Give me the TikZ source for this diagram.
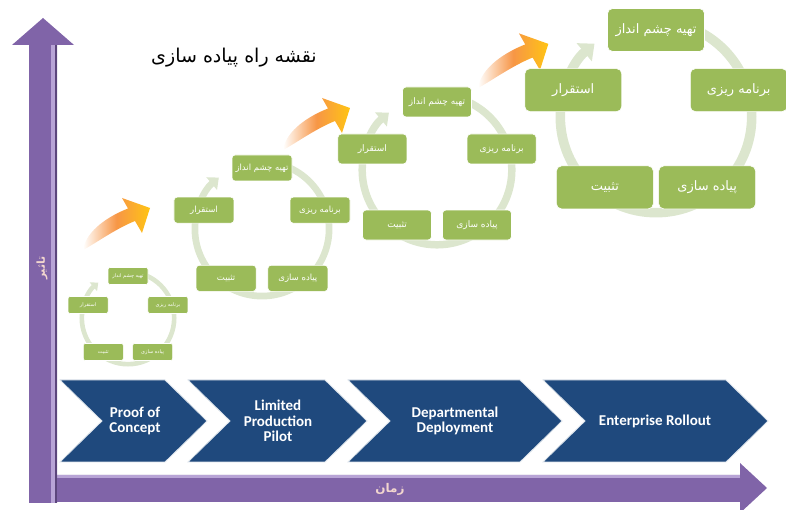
\documentclass[tikz,border=0pt]{standalone}
\usepackage{fontspec}
\setmainfont{Carlito}
\newfontfamily\farsi[Script=Arabic]{DejaVu Sans}
\TeXXeTstate=1
\usetikzlibrary{arrows.meta}

\definecolor{axispurple}{RGB}{128,100,168}
\definecolor{axislight}{RGB}{184,164,214}
\definecolor{axisdark}{RGB}{92,70,124}
\definecolor{phaseblue}{RGB}{31,73,125}
\definecolor{stepgreen}{RGB}{155,187,89}
\definecolor{ringgreen}{RGB}{220,230,206}
\definecolor{labelpink}{RGB}{242,214,206}
\definecolor{arroworange}{RGB}{247,150,70}
\definecolor{arrowyellow}{RGB}{255,196,20}

\tikzset{
  stepbox/.style={rectangle, fill=stepgreen, draw=white, line width=0.6, text=white, inner sep=0},
  phase/.style={fill=phaseblue, draw=white!85!phaseblue, line width=0.8},
  phasetext/.style={text=white, font=\bfseries\fontsize{15}{15.5}\selectfont, align=center},
}

\begin{document}
\begin{tikzpicture}[x=1pt, y=1pt]
    \clip (0,0) rectangle (786,510);
    
    % time and impact axes
    \fill[axispurple] (29,8) -- (740,8) -- (740,-3) -- (767,22) -- (740,47) -- (740,35) -- (29,35) -- cycle;
    \fill[axislight] (57,32) rectangle (740,34.5);
    \fill[axispurple] (29,7) -- (29,465) -- (12,465) -- (43,492) -- (74,465) -- (57,465) -- (57,7) -- cycle;
    \fill[axislight] (51,7) rectangle (54.5,465);
    \fill[axisdark] (54.5,7) rectangle (57,465);
    \node[rotate=90, text=labelpink, font=\farsi\bfseries\fontsize{11}{11}\selectfont] (impact) at (42,242) {\beginR تاثیر\endR};
    \node[text=labelpink, font=\farsi\bfseries\fontsize{12}{12}\selectfont] (time) at (390,21) {\beginR زمان\endR};
    
    % phases
    \draw[phase] (60,130) -- (165,130) -- (207,89) -- (165,48) -- (60,48) -- (102,89) -- cycle;
    \draw[phase] (188,130) -- (325,130) -- (367,89) -- (325,48) -- (188,48) -- (230,89) -- cycle;
    \draw[phase] (348,130) -- (520,130) -- (562,89) -- (520,48) -- (348,48) -- (390,89) -- cycle;
    \draw[phase] (543,130) -- (726,130) -- (768,89) -- (726,48) -- (543,48) -- (585,89) -- cycle;
    \node[phasetext] (poc) at (135,89) {Proof of\\Concept};
    \node[phasetext] (pilot) at (278,89) {Limited\\Production\\Pilot};
    \node[phasetext] (dept) at (455,89) {Departmental\\Deployment};
    \node[phasetext] (rollout) at (655,89) {Enterprise Rollout};
    
    \node[font=\farsi\fontsize{19}{21}\selectfont] (title) at (234,452) {\beginR نقشه راه پیاده سازی\endR};
    
    % growth arrows
    \foreach \tx/\ty/\s in {83/260/1, 283/360/1, 478/422/1.05}{
        \shade[shift={(\tx,\ty)}, scale=\s, left color=white, right color=arrowyellow, middle color=arroworange]
            (0,0) .. controls (3,20) and (27,34.5) .. (45,41.5) -- (39,52) -- (67,42) -- (59,17) -- (52,29)
            .. controls (32,21) and (10,5) .. (0,0) -- cycle;
    }
    
    % cycles
    \foreach \cx/\cy/\R/\w/\h/\fs/\k in {128/192/42/40/17/5/a, 262/281/61/60/26/8.5/b, 437/340/68/69/30/9/c, 656/393/87/97/43/13/d}{
        \begin{scope}[shift={(\cx,\cy)}]
            \draw[ringgreen, line width=0.11*\R, -{Triangle[length=0pt 1.4, width=0pt 2.4]}]
                (90:1.1*\R) arc[start angle=90, end angle=-230, radius=1.1*\R];
            \begin{scope}[every node/.style={stepbox, rounded corners=0.12*\h, minimum width=\w, minimum height=\h, font=\farsi\fontsize{\fs}{\fs}\selectfont}]
                \node (vision-\k) at (90:\R) {\beginR تهیه چشم انداز\endR};
                \node (plan-\k) at (18:\R) {\beginR برنامه ریزی\endR};
                \node (build-\k) at (-54:\R) {\beginR پیاده سازی\endR};
                \node (settle-\k) at (-126:\R) {\beginR تثبیت\endR};
                \node (deploy-\k) at (162:\R) {\beginR استقرار\endR};
            \end{scope}
        \end{scope}
    }
    
\end{tikzpicture}
\end{document}
